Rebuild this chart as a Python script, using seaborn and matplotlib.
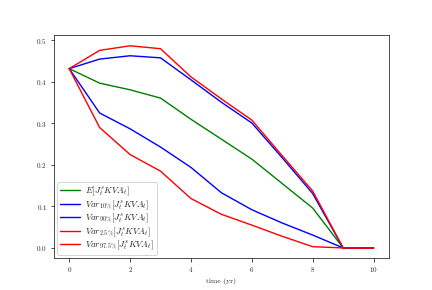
import numpy as np
import pandas as pd
import matplotlib
matplotlib.use('Agg')
import matplotlib.pyplot as plt
import seaborn as sns

sns.set_style('ticks')
plt.rcParams['font.family'] = 'serif'
plt.rcParams['font.serif'] = ['cmr10', 'DejaVu Serif']
plt.rcParams['mathtext.fontset'] = 'cm'
plt.rcParams['axes.formatter.use_mathtext'] = True
plt.rcParams['axes.unicode_minus'] = False

# time grid (years)
years = [0, 1, 2, 3, 4, 5, 6, 7, 8, 9, 10]

# expected value and quantile curves
expected = [0.432, 0.397, 0.381, 0.361, 0.310, 0.262, 0.214, 0.155, 0.096, 0.0, 0.0]
var_10 = [0.432, 0.325, 0.287, 0.243, 0.194, 0.133, 0.092, 0.060, 0.031, 0.0, 0.0]
var_90 = [0.432, 0.455, 0.463, 0.458, 0.405, 0.351, 0.301, 0.217, 0.131, 0.0, 0.0]
var_2_5 = [0.432, 0.290, 0.225, 0.185, 0.119, 0.081, 0.055, 0.028, 0.003, 0.0, 0.0]
var_97_5 = [0.432, 0.476, 0.487, 0.480, 0.412, 0.359, 0.308, 0.222, 0.137, 0.0, 0.0]

series = [
    (r'$E[J_t^sKVA_t]$', expected, 'g'),
    (r'$Var_{10\%}[J_t^sKVA_t]$', var_10, 'b'),
    (r'$Var_{90\%}[J_t^sKVA_t]$', var_90, 'b'),
    (r'$Var_{2.5\%}[J_t^sKVA_t]$', var_2_5, 'r'),
    (r'$Var_{97.5\%}[J_t^sKVA_t]$', var_97_5, 'r'),
]

fig, ax = plt.subplots(figsize=(6, 290 / 72), dpi=72)
fig.subplots_adjust(left=0.125, right=0.9, top=0.88, bottom=0.11)

for label, vals, col in series:
    df = pd.DataFrame({'t': years, 'v': vals})
    sns.lineplot(data=df, x='t', y='v', color=col, linewidth=1.4, label=label, ax=ax)

ax.set_xlabel('time (yr)', fontsize=7.5)
ax.set_ylabel('')
ax.set_xticks([0, 2, 4, 6, 8, 10])
ax.set_yticks([0.0, 0.1, 0.2, 0.3, 0.4, 0.5])
ax.tick_params(labelsize=7, length=3.5, width=0.8)
ax.set_xlim(-0.5, 10.5)
ax.set_ylim(-0.0245, 0.5135)
for s in ax.spines.values():
    s.set_linewidth(0.8)
ax.legend(loc='lower left', fontsize=9, frameon=True, handlelength=2.2,
          labelspacing=0.02, borderpad=0.3, handletextpad=0.6, borderaxespad=0.35)

fig.savefig('out.png', dpi=72)
